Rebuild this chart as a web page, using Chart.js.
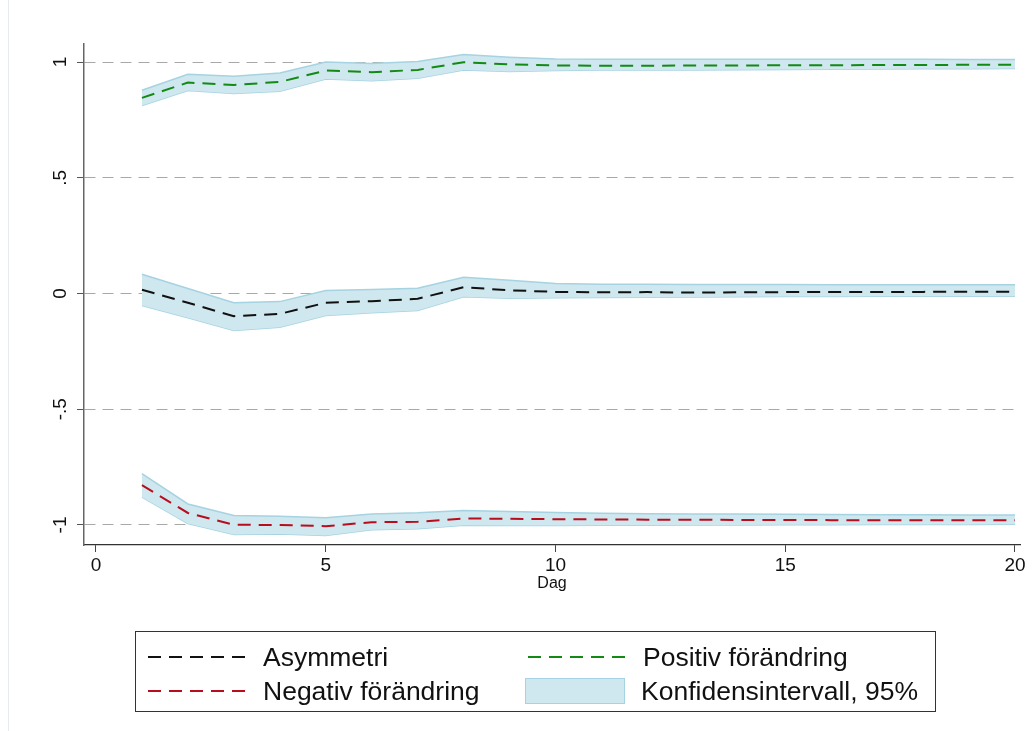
<!DOCTYPE html>
<html>
<head>
<meta charset="utf-8">
<script src="https://cdn.jsdelivr.net/npm/chart.js@4"></script>
<style>
  body { margin: 0; background: #fff; }
  #wrap { position: relative; width: 1033px; height: 731px; overflow: hidden; }
  #frame { position: absolute; left: 8px; top: 0; width: 0; height: 731px; border-left: 1px solid #e4ecef; }
  canvas { position: absolute; left: 0; top: 0; }
  #legend { position: absolute; left: 135px; top: 631px; width: 801px; height: 81px; border: 1px solid #333; box-sizing: border-box;
            font-family: "Liberation Sans", Arial, sans-serif; font-size: 26.5px; color: #111; }
  .item { position: absolute; height: 30px; line-height: 30px; white-space: nowrap; }
  .item svg, .item .box { position: absolute; left: 0; top: 0; }
  .item span { position: absolute; left: 116px; top: 0; }
  .box { width: 100px; height: 26px; top: 2px !important; background: #cfe7ef; border: 1px solid #a6d3e1; box-sizing: border-box; }
</style>
</head>
<body>
<div id="wrap">
  <div id="frame"></div>
  <canvas id="myChart" width="1033" height="731"></canvas>
  <div id="legend">
    <div class="item" style="left:11px; top:10px;">
      <svg width="100" height="30"><line x1="1" y1="15" x2="99" y2="15" stroke="#111" stroke-width="2" stroke-dasharray="13,8"/></svg>
      <span>Asymmetri</span>
    </div>
    <div class="item" style="left:391px; top:10px;">
      <svg width="100" height="30"><line x1="1" y1="15" x2="99" y2="15" stroke="#138a13" stroke-width="2" stroke-dasharray="13,8"/></svg>
      <span>Positiv förändring</span>
    </div>
    <div class="item" style="left:11px; top:44px;">
      <svg width="100" height="30"><line x1="1" y1="15" x2="99" y2="15" stroke="#b80d1c" stroke-width="2" stroke-dasharray="13,8"/></svg>
      <span>Negativ förändring</span>
    </div>
    <div class="item" style="left:389px; top:44px;">
      <div class="box"></div>
      <span style="left:116px;">Konfidensintervall, 95%</span>
    </div>
  </div>
</div>
<script>
// dagar efter chocken
var days = [1, 2, 3, 4, 5, 6, 7, 8, 9, 10, 11, 12, 13, 14, 15, 16, 17, 18, 19, 20];

var asym = [0.016, -0.040, -0.098, -0.088, -0.040, -0.033, -0.023, 0.027, 0.014, 0.007,
            0.005, 0.006, 0.004, 0.005, 0.006, 0.007, 0.007, 0.007, 0.008, 0.008];
var asymHi = [0.083, 0.022, -0.040, -0.035, 0.013, 0.017, 0.023, 0.070, 0.057, 0.043,
              0.040, 0.040, 0.039, 0.039, 0.039, 0.038, 0.038, 0.038, 0.038, 0.038];
var asymLo = [-0.052, -0.105, -0.160, -0.146, -0.095, -0.083, -0.073, -0.014, -0.020, -0.018,
              -0.017, -0.016, -0.015, -0.014, -0.013, -0.013, -0.012, -0.012, -0.012, -0.012];

var pos = [0.845, 0.911, 0.901, 0.914, 0.963, 0.956, 0.966, 0.999, 0.990, 0.985,
           0.984, 0.984, 0.985, 0.985, 0.986, 0.986, 0.987, 0.987, 0.988, 0.988];
var posHi = [0.878, 0.947, 0.939, 0.953, 1.000, 0.994, 1.002, 1.032, 1.021, 1.013,
             1.012, 1.012, 1.012, 1.012, 1.012, 1.012, 1.012, 1.012, 1.011, 1.011];
var posLo = [0.812, 0.877, 0.864, 0.874, 0.927, 0.919, 0.930, 0.965, 0.959, 0.963,
             0.965, 0.965, 0.966, 0.967, 0.968, 0.969, 0.970, 0.971, 0.971, 0.972];

var neg = [-0.828, -0.948, -0.999, -1.000, -1.005, -0.988, -0.986, -0.972, -0.973, -0.975,
           -0.976, -0.977, -0.977, -0.978, -0.978, -0.979, -0.979, -0.979, -0.980, -0.980];
var negHi = [-0.778, -0.909, -0.959, -0.962, -0.969, -0.952, -0.947, -0.937, -0.942, -0.946,
             -0.949, -0.951, -0.952, -0.953, -0.954, -0.955, -0.956, -0.956, -0.957, -0.957];
var negLo = [-0.880, -0.994, -1.041, -1.039, -1.045, -1.021, -1.016, -1.001, -1.002, -1.002,
             -1.001, -1.001, -1.000, -1.000, -0.999, -0.999, -0.998, -0.998, -0.998, -0.997];

var xTicks = [0, 5, 10, 15, 20];
var yTicks = [-1, -0.5, 0, 0.5, 1];

function pts(vals) {
  return days.map(function (d, i) { return {x: d, y: vals[i]}; });
}

var bandFill = '#cfe7ef';
var bandLine = '#a6d3e1';

function line(vals, color) {
  return {data: pts(vals), borderColor: color, borderWidth: 2, borderDash: [13, 8],
          pointRadius: 0, fill: false, tension: 0, order: 0};
}
function band(vals, fillTo) {
  return {data: pts(vals), borderColor: bandLine, borderWidth: 1.5, backgroundColor: bandFill,
          pointRadius: 0, fill: fillTo, tension: 0, order: 1};
}

// y-etiketter roterade som i Stata
var rotatedY = {
  id: 'rotatedY',
  afterDraw: function (chart) {
    var s = chart.scales.y, c = chart.ctx;
    c.save();
    c.font = '19px "Liberation Sans", Arial, sans-serif';
    c.fillStyle = '#111';
    c.textAlign = 'center';
    c.textBaseline = 'middle';
    s.ticks.forEach(function (t) {
      var py = s.getPixelForValue(t.value);
      c.save();
      c.translate(61, py);
      c.rotate(-Math.PI / 2);
      c.fillText(t.label, 0, 0);
      c.restore();
    });
    c.restore();
  }
};

var ctx = document.getElementById('myChart');
var myChart = new Chart(ctx, {
  type: 'line',
  data: {
    datasets: [
      line(asym, '#111'),
      line(pos, '#138a13'),
      line(neg, '#b80d1c'),
      band(asymHi, '+1'),
      band(asymLo, false),
      band(posHi, '+1'),
      band(posLo, false),
      band(negHi, '+1'),
      band(negLo, false)
    ]
  },
  options: {
    responsive: false,
    animation: false,
    layout: {padding: {left: 0, right: 13, top: 44, bottom: 138}},
    plugins: {legend: {display: false}, tooltip: {enabled: false}},
    scales: {
      x: {
        type: 'linear', min: -0.261, max: 20.109,
        afterBuildTicks: function (s) { s.ticks = xTicks.map(function (v) { return {value: v}; }); },
        afterFit: function (s) { s.height = 48; },
        grid: {drawOnChartArea: false, drawTicks: true, tickLength: 7, tickColor: '#444', tickWidth: 1},
        border: {display: true, color: '#333', width: 1.2},
        ticks: {color: '#111', padding: 2, maxRotation: 0, font: {family: '"Liberation Sans", Arial, sans-serif', size: 19}},
        title: {display: true, text: 'Dag', color: '#111', padding: 0, font: {family: '"Liberation Sans", Arial, sans-serif', size: 16}}
      },
      y: {
        type: 'linear', min: -1.0864, max: 1.0778,
        afterBuildTicks: function (s) { s.ticks = yTicks.map(function (v) { return {value: v}; }); },
        afterFit: function (s) { s.width = 84; },
        grid: {color: '#a8a8a8', lineWidth: 1, drawTicks: true, tickLength: 7, tickColor: '#555', tickWidth: 1, tickBorderDash: []},
        border: {display: true, color: '#666', width: 1.5, dash: [11, 7]},
        ticks: {
          color: 'rgba(0,0,0,0)',
          callback: function (v) { return String(v).replace('0.', '.'); }
        }
      }
    }
  },
  plugins: [rotatedY]
});
</script>
</body>
</html>
